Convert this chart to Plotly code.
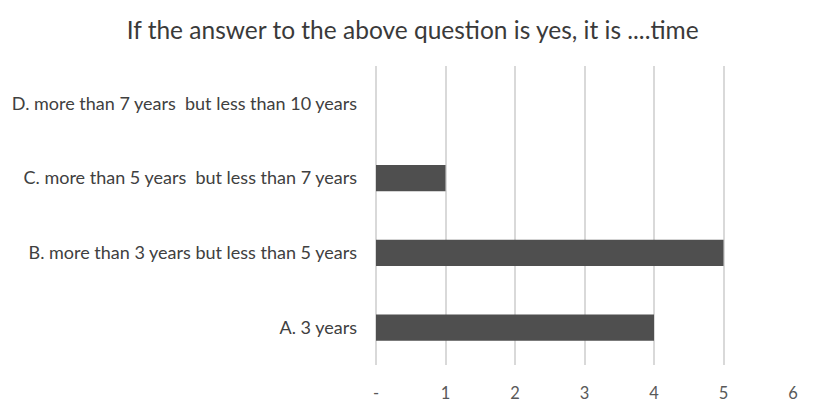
import plotly.graph_objects as go

# Survey answers and counts (bottom to top on the chart)
categories = [
    "A. 3 years",
    "B. more than 3 years but less than 5 years",
    "C. more than 5 years\u00a0 but less than 7 years",
    "D. more than 7 years\u00a0 but less than 10 years",
]
counts = [4, 5, 1, 0]

tick_values = [0, 1, 2, 3, 4, 5, 6]
tick_labels = ["-", "1", "2", "3", "4", "5", "6"]

title_text = "If the answer to the above question is yes, it is ....time"

fig = go.Figure(
    go.Bar(
        x=counts,
        y=categories,
        orientation="h",
        marker=dict(color="#4f4f4f", line=dict(width=0)),
        hoverinfo="x+y",
    )
)

fig.update_layout(
    width=814,
    height=406,
    margin=dict(l=376, r=21, t=66, b=41),
    paper_bgcolor="white",
    plot_bgcolor="white",
    bargap=0.65,
    showlegend=False,
    font=dict(family="Lato, Open Sans, sans-serif", color="#595959"),
    title=dict(
        text=title_text,
        x=0.507,
        xanchor="center",
        y=0.925,
        yanchor="middle",
        font=dict(size=24.5, color="#3a3a3a", family="Lato, Open Sans, sans-serif"),
    ),
)

fig.update_xaxes(
    range=[0, 6],
    tickvals=tick_values,
    ticktext=tick_labels,
    showgrid=True,
    gridcolor="#d9d9d9",
    gridwidth=2,
    zeroline=True,
    zerolinecolor="#d9d9d9",
    zerolinewidth=2,
    showline=False,
    ticks="",
    tickfont=dict(size=16.5, color="#595959"),
    ticklabelstandoff=16,
    automargin=False,
    fixedrange=True,
)

fig.update_yaxes(
    showgrid=False,
    showline=False,
    ticks="",
    tickfont=dict(size=18, color="#404040"),
    ticklabelstandoff=18,
    automargin=False,
    fixedrange=True,
)

fig.write_html("out.html")
